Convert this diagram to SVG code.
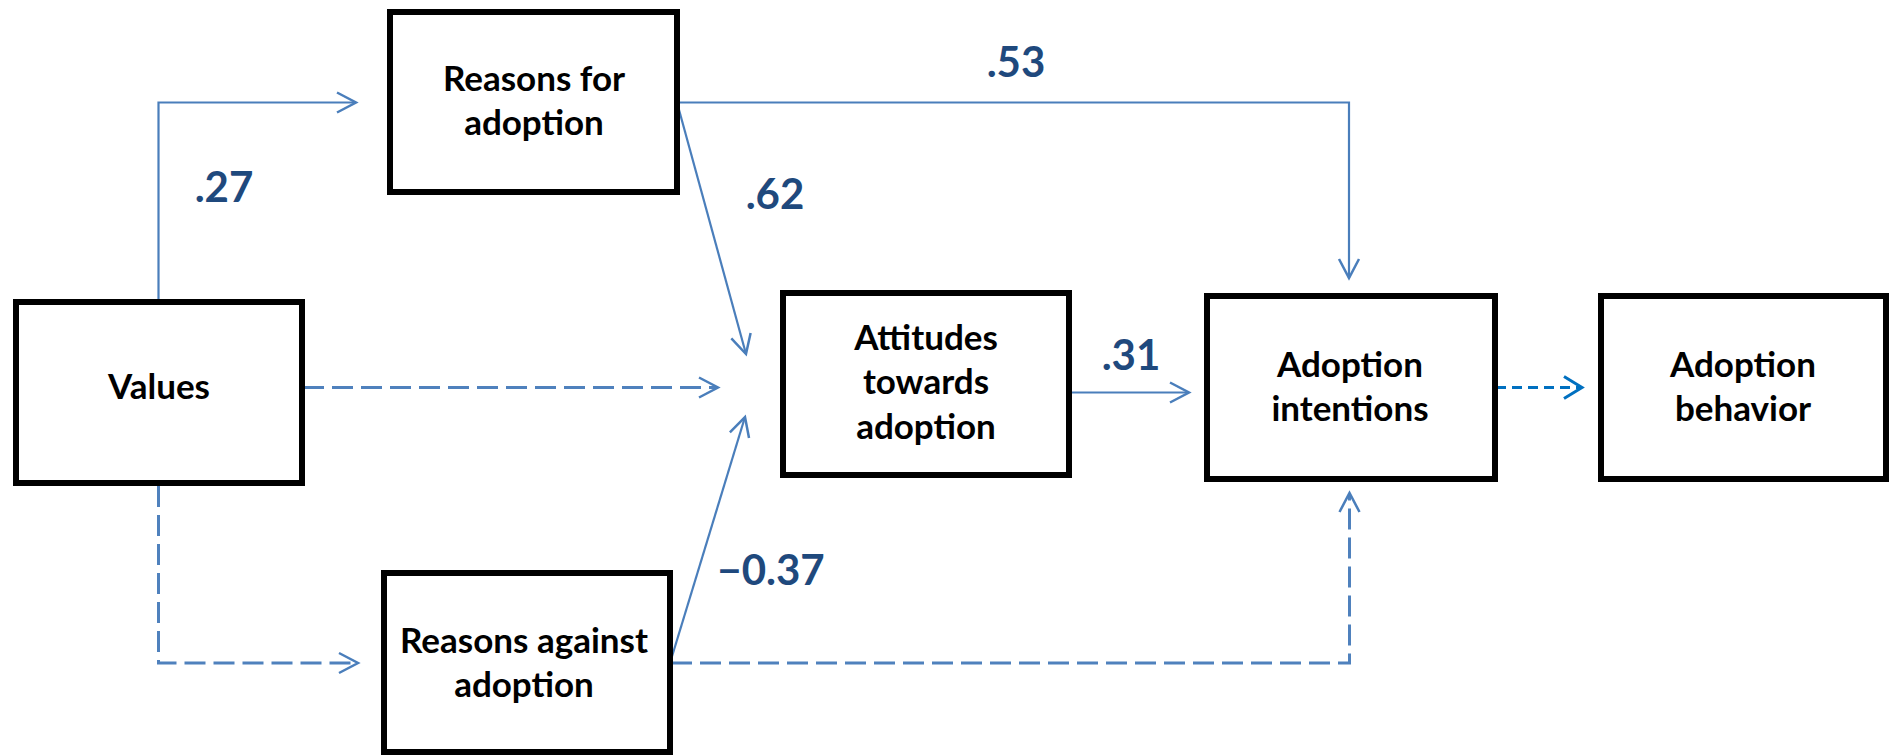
<svg xmlns="http://www.w3.org/2000/svg" width="1890" height="755" viewBox="0 0 1890 755">
<style>
.box{fill:#fff;stroke:#000;stroke-width:6;stroke-linejoin:miter}
.nt{font-family:Lato,"Liberation Sans",sans-serif;font-weight:bold;font-size:35px;fill:#000;text-anchor:middle}
.lb{font-family:Lato,"Liberation Sans",sans-serif;font-weight:bold;font-size:42px;fill:#1F497D;text-anchor:middle}
.c{fill:none;stroke:#4A7EBB;stroke-width:2.2}
.d{fill:none;stroke:#4F81BD;stroke-width:3;stroke-dasharray:21 8}
.d2{fill:none;stroke:#0070C0;stroke-width:3;stroke-dasharray:10 6}
</style>
<defs>
<marker id="a" markerUnits="userSpaceOnUse" markerWidth="24" markerHeight="26" viewBox="0 0 24 26" refX="21" refY="13" orient="auto">
<path d="M2,3 L21,13 L2,23" fill="none" stroke="#4A7EBB" stroke-width="2.5"/>
</marker>
<marker id="a2" markerUnits="userSpaceOnUse" markerWidth="24" markerHeight="28" viewBox="0 0 24 28" refX="21" refY="14" orient="auto">
<path d="M3,3 L21,14 L3,25" fill="none" stroke="#0070C0" stroke-width="3"/>
</marker>
</defs>
<rect width="1890" height="755" fill="#fff"/>
<g id="connectors">
<path class="c" d="M158.5,300 V102.5 H356" marker-end="url(#a)"/>
<path class="c" d="M677,102.5 H1349 V278" marker-end="url(#a)"/>
<path class="c" d="M677,102.5 L746,354" marker-end="url(#a)"/>
<path class="d" d="M303,387.5 H718" marker-end="url(#a)"/>
<path class="d" d="M158.5,486 V663 H358" marker-end="url(#a)"/>
<path class="c" d="M670,663 L745,417" marker-end="url(#a)"/>
<path class="d" d="M671,663 H1349.5 V493" marker-end="url(#a)"/>
<path class="c" d="M1071,392.5 H1189" marker-end="url(#a)"/>
<path class="d2" d="M1496,387.5 H1582" marker-end="url(#a2)"/>
</g>
<g id="values">
<rect class="box" x="16" y="302" width="286" height="181"/>
<text class="nt" x="159" y="399">Values</text>
</g>
<g id="reasons-for">
<rect class="box" x="390" y="12" width="287" height="180"/>
<text class="nt" x="534" y="91">Reasons for</text>
<text class="nt" x="534" y="135">adoption</text>
</g>
<g id="reasons-against">
<rect class="box" x="384" y="573" width="286" height="179"/>
<text class="nt" x="524" y="653">Reasons against</text>
<text class="nt" x="524" y="697">adoption</text>
</g>
<g id="attitudes">
<rect class="box" x="783" y="293" width="286" height="182"/>
<text class="nt" x="926" y="350">Attitudes</text>
<text class="nt" x="926" y="394">towards</text>
<text class="nt" x="926" y="439">adoption</text>
</g>
<g id="intentions">
<rect class="box" x="1207" y="296" width="288" height="183"/>
<text class="nt" x="1350" y="377">Adoption</text>
<text class="nt" x="1350" y="421">intentions</text>
</g>
<g id="behavior">
<rect class="box" x="1601" y="296" width="285" height="183"/>
<text class="nt" x="1743" y="377">Adoption</text>
<text class="nt" x="1743" y="421">behavior</text>
</g>
<g id="labels">
<text class="lb" x="224" y="202">.27</text>
<text class="lb" x="1016" y="77">.53</text>
<text class="lb" x="775" y="209">.62</text>
<text class="lb" x="1131" y="370">.31</text>
<text class="lb" x="771" y="585">−0.37</text>
</g>
</svg>
